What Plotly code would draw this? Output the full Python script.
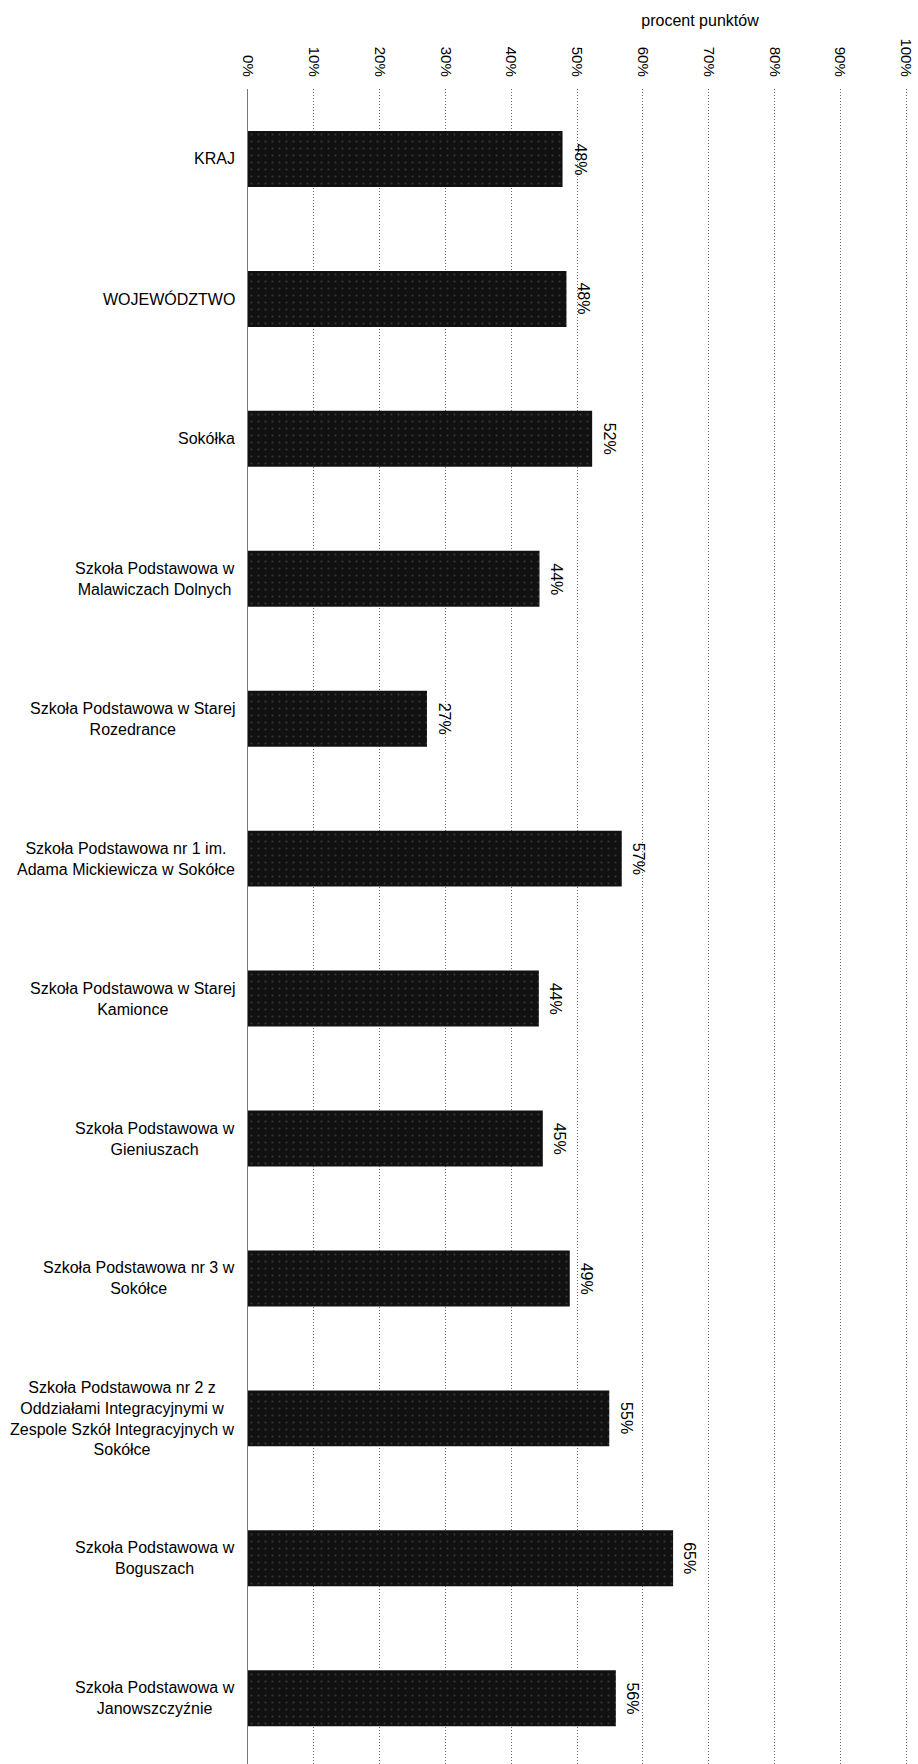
import plotly.graph_objects as go

categories = [
    "KRAJ",
    "WOJEWÓDZTWO",
    "Sokółka",
    "Szkoła Podstawowa w<br>Malawiczach Dolnych",
    "Szkoła Podstawowa w Starej<br>Rozedrance",
    "Szkoła Podstawowa nr 1 im.<br>Adama Mickiewicza w Sokółce",
    "Szkoła Podstawowa w Starej<br>Kamionce",
    "Szkoła Podstawowa w<br>Gieniuszach",
    "Szkoła Podstawowa nr 3 w<br>Sokółce",
    "Szkoła Podstawowa nr 2 z<br>Oddziałami Integracyjnymi w<br>Zespole Szkół Integracyjnych w<br>Sokółce",
    "Szkoła Podstawowa w<br>Boguszach",
    "Szkoła Podstawowa w<br>Janowszczyźnie",
]
values = [47.8, 48.4, 52.3, 44.3, 27.2, 56.8, 44.2, 44.8, 48.9, 54.9, 64.6, 55.9]
value_labels = ["48%", "48%", "52%", "44%", "27%", "57%", "44%", "45%", "49%", "55%", "65%", "56%"]
tick_vals = [0, 10, 20, 30, 40, 50, 60, 70, 80, 90, 100]
tick_text = ["0%", "10%", "20%", "30%", "40%", "50%", "60%", "70%", "80%", "90%", "100%"]
axis_title = "procent punktów"

FONT = "Liberation Sans, Arial, sans-serif"

fig = go.Figure()
fig.add_trace(go.Bar(
    x=values,
    y=categories,
    orientation="h",
    marker=dict(
        color="#111111",
        line=dict(width=0),
        pattern=dict(shape=".", fgcolor="#5a5a5a", bgcolor="#111111", size=7, solidity=0.08),
    ),
    width=0.4,
    hoverinfo="skip",
))

annotations = []
for c, v, t in zip(categories, values, value_labels):
    annotations.append(dict(
        x=v, y=c, xref="x", yref="y", text=t, textangle=90,
        showarrow=False, xanchor="center", yanchor="middle", xshift=17,
        font=dict(family=FONT, size=16, color="#000"),
    ))
    annotations.append(dict(
        x=0, y=c, xref="paper", yref="y", text=c, align="center",
        showarrow=False, xanchor="right", yanchor="middle", xshift=-11,
        font=dict(family=FONT, size=16, color="#000"),
    ))

fig.update_layout(
    width=918, height=1764,
    margin=dict(l=248, r=10, t=89, b=0),
    paper_bgcolor="white", plot_bgcolor="white",
    showlegend=False,
    title=dict(text=axis_title, x=700 / 918, xanchor="center", xref="container",
               y=1 - 20 / 1764, yanchor="middle", yref="container",
               font=dict(family=FONT, size=16, color="#000")),
    annotations=annotations,
    font=dict(family=FONT, color="#000"),
)
fig.update_xaxes(
    range=[0, 100.3], side="top", tickvals=tick_vals, ticktext=tick_text,
    tickangle=90, tickfont=dict(family=FONT, size=15, color="#000"),
    showgrid=True, gridcolor="#6a6a6a", griddash="1px,2px", gridwidth=1,
    zeroline=False, showline=False, ticks="", ticklabelstandoff=9,
    ticklabeloverflow="allow",
)
fig.update_yaxes(
    range=[11.47, -0.5], showticklabels=False, showgrid=False,
    showline=True, linecolor="#777", linewidth=1, zeroline=False, ticks="",
)

fig.write_html(
    "out.html",
    config={"displayModeBar": False},
    post_script="document.body.style.margin='0';document.body.style.overflow='hidden';",
)
